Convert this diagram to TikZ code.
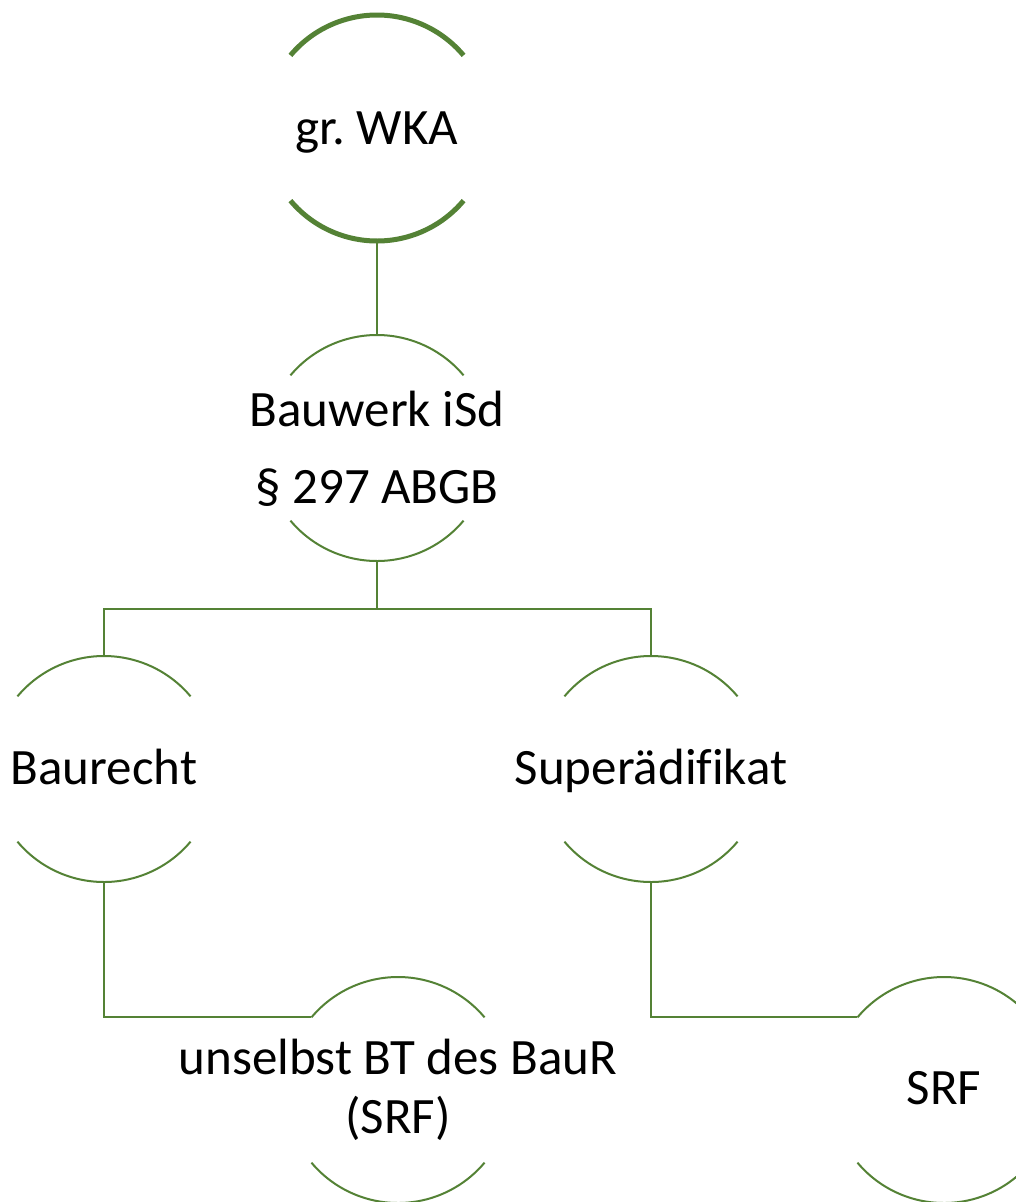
\documentclass[tikz,border=0pt]{standalone}
\usepackage{fontspec}
\setmainfont[Ligatures=NoCommon]{Carlito}
\frenchspacing
\definecolor{leaf}{RGB}{84,130,53}
\tikzset{
  ring/.style={circle, draw=none, minimum size=226pt, inner sep=0pt, outer sep=0pt},
  txt/.style={anchor=base, inner sep=0pt, font=\fontsize{51}{60}\selectfont, text=black},
  arcline/.style={draw=leaf, line width=2pt},
  thickarc/.style={draw=leaf, line width=5pt},
  link/.style={draw=leaf, line width=2pt}
}
\begin{document}
\begin{tikzpicture}[x=1pt, y=-1pt]
\useasboundingbox (0,0) rectangle (1015,1202);
\fill[white] (0,0) rectangle (1015,1202);
% circle positions
\node[ring] (wka) at (377,128) {};
\node[ring] (bw) at (377,448) {};
\node[ring] (br) at (104,769) {};
\node[ring] (sa) at (651,769) {};
\node[ring] (ub) at (398,1090) {};
\node[ring] (srf) at (944,1090) {};
% arcs
\draw[thickarc] (wka.140) arc[start angle=140, end angle=40, radius=113pt];
\draw[thickarc] (wka.220) arc[start angle=220, end angle=320, radius=113pt];
\foreach \n in {bw,br,sa,ub,srf}{
  \draw[arcline] (\n.140) arc[start angle=140, end angle=40, radius=113pt];
  \draw[arcline] (\n.220) arc[start angle=220, end angle=320, radius=113pt];
}
% connectors
\draw[link] (wka.south) -- (bw.north);
\draw[link] (bw.south) -- ++(0,48) coordinate (split) -| (br.north);
\draw[link] (split) -| (sa.north);
\draw[link] (br.south) |- (ub.140);
\draw[link] (sa.south) |- (srf.140);
% texts
\node[txt] (t1) at (377,144) {gr. WKA};
\node[txt] (t2a) at (377,426) {Bauwerk iSd};
\node[txt] (t2b) at (377,503) {§ 297 ABGB};
\node[txt] (t3) at (104,784) {Baurecht};
\node[txt] (t4) at (651,784) {Superädifikat};
\node[txt] (t5a) at (398,1074) {unselbst BT des BauR};
\node[txt] (t5b) at (398,1133) {(SRF)};
\node[txt] (t6) at (944,1104) {SRF};
\end{tikzpicture}
\end{document}
